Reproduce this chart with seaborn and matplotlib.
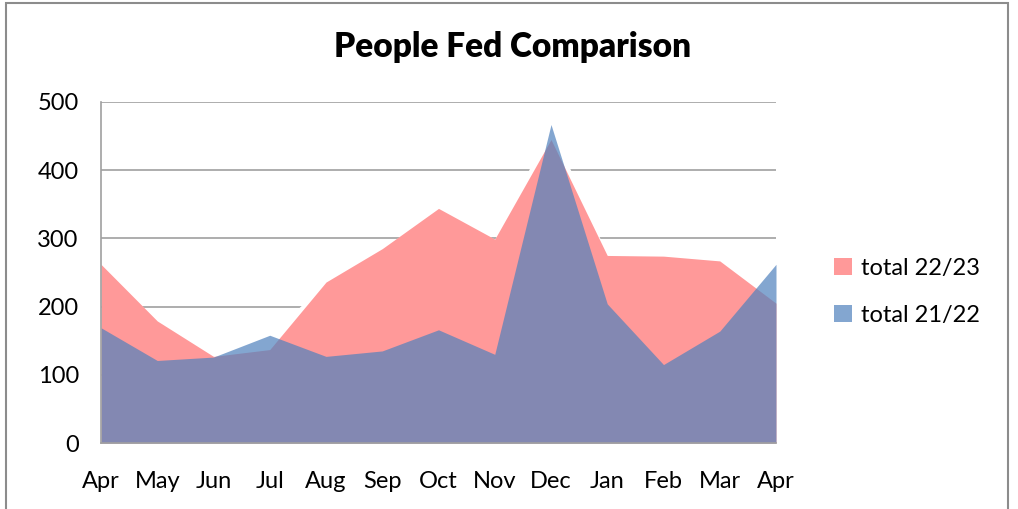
import matplotlib
matplotlib.use('Agg')
import matplotlib.pyplot as plt
from matplotlib.patches import Rectangle, Patch
import seaborn as sns
import pandas as pd

# Data
months = ['Apr', 'May', 'Jun', 'Jul', 'Aug', 'Sep', 'Oct', 'Nov', 'Dec',
          'Jan', 'Feb', 'Mar', 'Apr']
total_22_23 = [262, 179, 127, 137, 236, 285, 344, 299, 445, 275, 274, 267, 205]
total_21_22 = [169, 121, 126, 158, 127, 135, 166, 130, 467, 204, 115, 164, 262]

df = pd.DataFrame({'idx': range(len(months)), 'month': months,
                   'total 22/23': total_22_23, 'total 21/22': total_21_22})

sns.set_theme(style='white')
plt.rcParams['font.family'] = ['Lato', 'DejaVu Sans']
plt.rcParams['text.color'] = 'black'

RED = (1.0, 0.0, 0.0, 0.4)
BLUE = (79/255, 129/255, 189/255, 0.7)
GRID = '#a0a0a0'

fig = plt.figure(figsize=(10.18, 5.09), dpi=100)
ax = fig.add_axes([101/1018, 1 - 443/509, 675/1018, 341/509])

# invisible line just to set up the scales through seaborn
sns.lineplot(data=df, x='idx', y='total 22/23', ax=ax, linewidth=0)
# white underlay so the gridlines do not show through the areas
top = df[['total 22/23', 'total 21/22']].max(axis=1)
ax.fill_between(df['idx'], 0, top, color='white', linewidth=0, zorder=1.5)
ax.fill_between(df['idx'], 0, df['total 22/23'], color=RED, linewidth=0, zorder=2)
ax.fill_between(df['idx'], 0, df['total 21/22'], color=BLUE, linewidth=0, zorder=3)

ax.set_xlim(0, len(months) - 1)
ax.set_ylim(0, 500)
ax.set_yticks([0, 100, 200, 300, 400, 500])
ax.set_xticks(df['idx'])
ax.set_xticklabels(months)
ax.set_xlabel('')
ax.set_ylabel('')

ax.yaxis.grid(True, color=GRID, linewidth=1.2, zorder=0.5)
ax.set_axisbelow(True)
for s in ['top', 'right']:
    ax.spines[s].set_visible(False)
for s in ['left', 'bottom']:
    ax.spines[s].set_color(GRID)
    ax.spines[s].set_linewidth(1.2)
    ax.spines[s].set_zorder(4)

ax.tick_params(axis='both', which='both', direction='out', length=7,
               color=GRID, width=1, labelsize=17, labelcolor='black')
ax.tick_params(axis='x', pad=13)
ax.tick_params(axis='y', pad=9)

fig.text(513/1018, 1 - 47/509, 'People Fed Comparison', ha='center', va='center',
         fontsize=24, fontweight='heavy', color='black')

handles = [Patch(facecolor=RED, edgecolor='none', label='total 22/23'),
           Patch(facecolor=BLUE, edgecolor='none', label='total 21/22')]
fig.legend(handles=handles, loc='center left', bbox_to_anchor=(813/1018, 1 - 292/509),
           frameon=False, fontsize=17, handlelength=0.75, handleheight=0.75,
           handletextpad=0.4, labelspacing=1.1, labelcolor='black')

# chart border
fig.patches.append(Rectangle((6/1018, -0.1), 1002/1018, 1.1 - 3/509,
                             transform=fig.transFigure, fill=False,
                             edgecolor='#8c8c8c', linewidth=1.5))

fig.savefig('out.png', dpi=100)
